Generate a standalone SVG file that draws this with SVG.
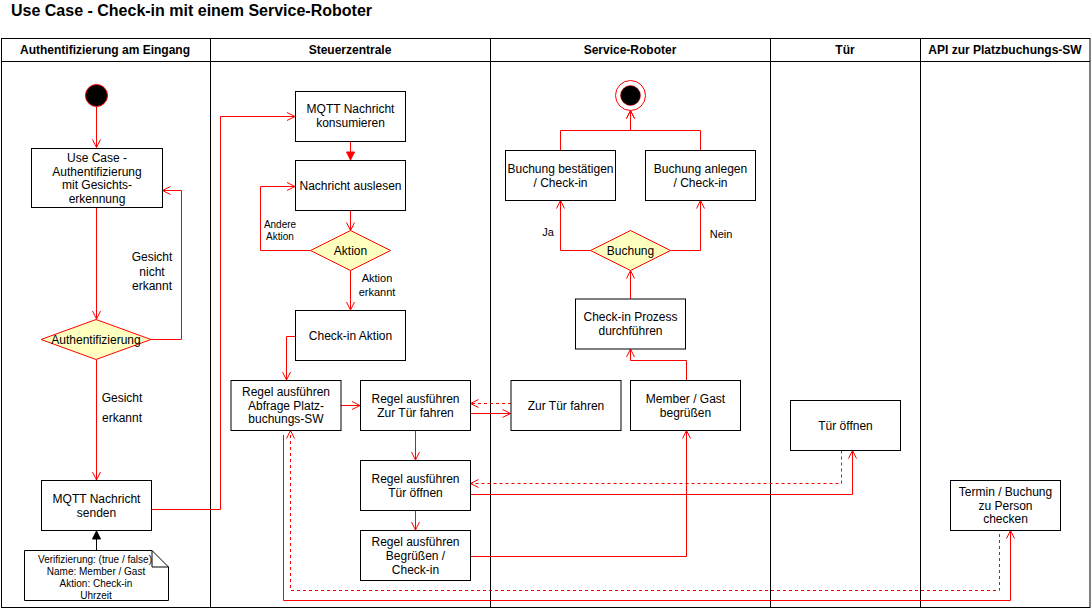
<svg xmlns="http://www.w3.org/2000/svg" width="1091" height="609" viewBox="0 0 1091 609">
<defs>
<marker id="open" markerUnits="userSpaceOnUse" markerWidth="10" markerHeight="10" viewBox="0 0 10 10" refX="9" refY="5" orient="auto"><path d="M1,1 L9,5 L1,9" fill="none" stroke="#ff0000" stroke-width="1"/></marker>
<marker id="fillred" markerUnits="userSpaceOnUse" markerWidth="10" markerHeight="10" viewBox="0 0 10 10" refX="9" refY="5" orient="auto"><path d="M1,1 L9,5 L1,9 Z" fill="#ff0000" stroke="#ff0000" stroke-width="1"/></marker>
<marker id="fillblack" markerUnits="userSpaceOnUse" markerWidth="10" markerHeight="10" viewBox="0 0 10 10" refX="9" refY="5" orient="auto"><path d="M1,1 L9,5 L1,9 Z" fill="#000" stroke="#000" stroke-width="1"/></marker>
</defs>
<style>
text{font-family:"Liberation Sans",Arial,sans-serif;fill:#000}
.t{font-size:12px;text-anchor:middle}
.s{font-size:11px;text-anchor:middle}
.xs{font-size:10px;text-anchor:middle}
.h{font-size:12px;font-weight:bold;text-anchor:middle}
.box{fill:#fff;stroke:#000;stroke-width:1}
.dia{fill:#ffffc0;stroke:#ff0000;stroke-width:1}
.e{fill:none;stroke:#ff0000;stroke-width:1}
.a{marker-end:url(#open)}
.d{stroke-dasharray:3 3}
.lane{fill:none;stroke:#000;stroke-width:1}
</style>
<rect width="1091" height="609" fill="#fff"/>
<text x="11" y="16" style="font-size:16px;font-weight:bold">Use Case - Check-in mit einem Service-Roboter</text>
<g id="pool">
<rect class="lane" x="1.5" y="38.5" width="1088.5" height="569"/>
<line class="lane" x1="1.5" y1="61.5" x2="1090" y2="61.5"/>
<line class="lane" x1="210.5" y1="38.5" x2="210.5" y2="607.5"/>
<line class="lane" x1="490.5" y1="38.5" x2="490.5" y2="607.5"/>
<line class="lane" x1="770.5" y1="38.5" x2="770.5" y2="607.5"/>
<line class="lane" x1="920.5" y1="38.5" x2="920.5" y2="607.5"/>
<text class="h" x="105" y="54">Authentifizierung am Eingang</text>
<text class="h" x="350" y="54">Steuerzentrale</text>
<text class="h" x="630" y="54">Service-Roboter</text>
<text class="h" x="845" y="54">Tür</text>
<text class="h" x="1005" y="54">API zur Platzbuchungs-SW</text>
</g>
<g id="connectors">
<path class="e a" d="M96.5,107 V147.5"/>
<path class="e a" d="M96.5,207.5 V319"/>
<path class="e a" d="M150.5,339.5 H181.5 V190.5 H162.5"/>
<path class="e a" d="M96.5,360 V480"/>
<path d="M96.5,550 V531" fill="none" stroke="#000" marker-end="url(#fillblack)"/>
<path class="e a" d="M151.5,509.5 H220.5 V116.5 H295"/>
<path class="e" d="M350.5,141 V160" marker-end="url(#fillred)"/>
<path class="e a" d="M350.5,210.5 V230.5"/>
<path class="e a" d="M310.5,250.5 H260.5 V186.5 H295"/>
<path class="e a" d="M350.5,270.5 V310"/>
<path class="e a" d="M295.5,336.5 H286.5 V380"/>
<path class="e a" d="M341,405.5 H360"/>
<path class="e a" d="M415.5,430.5 V460"/>
<path class="e a" d="M415.5,510.5 V530"/>
<path class="e d a" d="M511,403.5 H470.5"/>
<path class="e a" d="M470.5,413.5 H510.5"/>
<path class="e d a" d="M841.5,450.5 V483.5 H470.5"/>
<path class="e a" d="M470.5,494.5 H852.5 V450.5"/>
<path class="e a" d="M470.5,556.5 H686.5 V430.5"/>
<path class="e a" d="M686.5,380 V360.5 H630.5 V349"/>
<path class="e a" d="M630.5,299 V270.5"/>
<path class="e a" d="M590.5,250.5 H560.5 V200.5"/>
<path class="e a" d="M670.5,250.5 H700.5 V200.5"/>
<path class="e a" d="M560.5,150 V130.5 H630.5 V110.5"/>
<path class="e a" d="M700.5,150 V130.5 H630.5 V110.5"/>
<path class="e d a" d="M999.5,534 V590.5 H290.5 V430.5"/>
<path class="e a" d="M283.5,435 V600.5 H1010.5 V530.5"/>
<text class="t" x="152" y="261">Gesicht</text>
<text class="t" x="152" y="275.5">nicht</text>
<text class="t" x="152" y="290">erkannt</text>
<text class="t" x="122" y="402">Gesicht</text>
<text class="t" x="122" y="422">erkannt</text>
<text class="xs" x="280" y="228">Andere</text>
<text class="xs" x="280" y="240">Aktion</text>
<text class="s" x="377" y="282">Aktion</text>
<text class="s" x="377" y="296">erkannt</text>
<text class="s" x="548" y="236">Ja</text>
<text class="s" x="721" y="238">Nein</text>
</g>
<g id="start"><circle cx="96.5" cy="95.5" r="11" fill="#000" stroke="#ff0000"/></g>
<g id="uc-auth"><rect class="box" x="31.5" y="148.5" width="131" height="59"/>
<text class="t" x="97" y="161.5">Use Case -</text><text class="t" x="97" y="175.5">Authentifizierung</text><text class="t" x="97" y="189">mit Gesichts-</text><text class="t" x="97" y="203">erkennung</text></g>
<g id="dia-auth"><polygon class="dia" points="96,319.5 151,339.5 96,359.5 41,339.5"/><text class="t" x="96" y="344">Authentifizierung</text></g>
<g id="mqtt-senden"><rect class="box" x="41.5" y="480.5" width="110" height="50"/><text class="t" x="96.5" y="503">MQTT Nachricht</text><text class="t" x="96.5" y="517">senden</text></g>
<g id="note"><path d="M24.5,550.5 H152 L168.5,567 V600.5 H24.5 Z" fill="#fff" stroke="#000"/><path d="M152,550.5 V567 H168.5" fill="none" stroke="#000"/>
<text class="xs" x="95" y="563">Verifizierung: (true / false)</text><text class="xs" x="96" y="574.5">Name: Member / Gast</text><text class="xs" x="96" y="586.5">Aktion: Check-in</text><text class="xs" x="96" y="598.5">Uhrzeit</text></g>
<g id="mqtt-konsumieren"><rect class="box" x="295.5" y="91.5" width="110" height="50"/><text class="t" x="350.5" y="113">MQTT Nachricht</text><text class="t" x="350.5" y="127">konsumieren</text></g>
<g id="nachricht-auslesen"><rect class="box" x="295.5" y="160.5" width="110" height="50"/><text class="t" x="350.5" y="190">Nachricht auslesen</text></g>
<g id="dia-aktion"><polygon class="dia" points="350.5,230.5 390.5,250.5 350.5,270.5 310.5,250.5"/><text class="t" x="350.5" y="255">Aktion</text></g>
<g id="checkin-aktion"><rect class="box" x="295.5" y="310.5" width="110" height="50"/><text class="t" x="350.5" y="340">Check-in Aktion</text></g>
<g id="regel-abfrage"><rect class="box" x="231" y="380.5" width="110" height="50"/><text class="t" x="286" y="396">Regel ausführen</text><text class="t" x="286" y="409.5">Abfrage Platz-</text><text class="t" x="286" y="423">buchungs-SW</text></g>
<g id="regel-tuer-fahren"><rect class="box" x="360.5" y="380.5" width="110" height="50"/><text class="t" x="415.5" y="403">Regel ausführen</text><text class="t" x="415.5" y="416.5">Zur Tür fahren</text></g>
<g id="regel-tuer-oeffnen"><rect class="box" x="360.5" y="460.5" width="110" height="50"/><text class="t" x="415.5" y="483">Regel ausführen</text><text class="t" x="415.5" y="497">Tür öffnen</text></g>
<g id="regel-begruessen"><rect class="box" x="360.5" y="530.5" width="110" height="50"/><text class="t" x="415.5" y="546">Regel ausführen</text><text class="t" x="415.5" y="560">Begrüßen /</text><text class="t" x="415.5" y="574">Check-in</text></g>
<g id="end"><circle cx="630.5" cy="95.5" r="15" fill="#fff" stroke="#ff0000"/><circle cx="630.5" cy="95.5" r="10" fill="#000" stroke="#ff0000" stroke-width="0.5"/></g>
<g id="buchung-bestaetigen"><rect class="box" x="505.5" y="150.5" width="110" height="50"/><text class="t" x="560.5" y="173">Buchung bestätigen</text><text class="t" x="560.5" y="186.5">/ Check-in</text></g>
<g id="buchung-anlegen"><rect class="box" x="645.5" y="150.5" width="110" height="50"/><text class="t" x="700.5" y="173">Buchung anlegen</text><text class="t" x="700.5" y="186.5">/ Check-in</text></g>
<g id="dia-buchung"><polygon class="dia" points="630.5,230.5 670.5,250.5 630.5,270.5 590.5,250.5"/><text class="t" x="630.5" y="255">Buchung</text></g>
<g id="checkin-prozess"><rect class="box" x="575.5" y="299" width="110" height="50"/><text class="t" x="630.5" y="321">Check-in Prozess</text><text class="t" x="630.5" y="334.5">durchführen</text></g>
<g id="zur-tuer-fahren"><rect class="box" x="511" y="380.5" width="110" height="50"/><text class="t" x="566" y="410">Zur Tür fahren</text></g>
<g id="member-begruessen"><rect class="box" x="630.5" y="380.5" width="110" height="50"/><text class="t" x="685.5" y="403">Member / Gast</text><text class="t" x="685.5" y="417">begrüßen</text></g>
<g id="tuer-oeffnen"><rect class="box" x="790.5" y="400.5" width="110" height="50"/><text class="t" x="845.5" y="430">Tür öffnen</text></g>
<g id="termin-checken"><rect class="box" x="950.5" y="480.5" width="110" height="50"/><text class="t" x="1005.5" y="496">Termin / Buchung</text><text class="t" x="1005.5" y="510">zu Person</text><text class="t" x="1005.5" y="523">checken</text></g>
</svg>
